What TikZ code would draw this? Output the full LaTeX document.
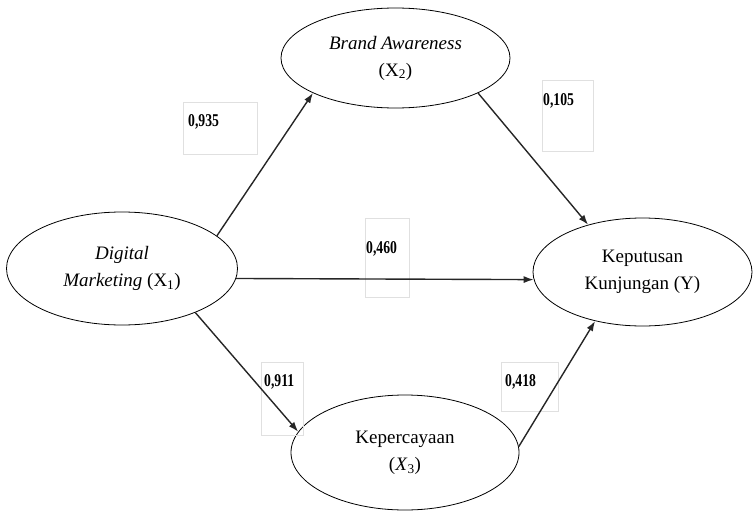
\documentclass[tikz,border=0pt]{standalone}
\usepackage{fontspec}
\setmainfont{Liberation Serif}
\newfontfamily\numfont[FakeStretch=0.76]{Liberation Serif}
\usetikzlibrary{shapes.geometric,arrows.meta}
\begin{document}
\begin{tikzpicture}[x=1pt,y=-1pt,
  latent/.style={ellipse, draw=black, line width=0.8pt, inner sep=0pt, align=center,
    font=\fontsize{19}{27}\selectfont},
  pathline/.style={draw=black!85, line width=1.4pt, -{Latex[length=10pt,width=7pt]}},
  numbox/.style={draw=black!12, line width=0.8pt, inner sep=0pt, anchor=north west},
  numtext/.style={font=\numfont\bfseries\fontsize{18}{20}\selectfont, anchor=base west, inner sep=0pt}]
\useasboundingbox (0,0) rectangle (755,511);

% latent variables
\node[latent, minimum width=231, minimum height=113] (X1) at (122,268.5)
  {\textit{Digital}\\\textit{Marketing} (X\textsubscript{1})};
\node[latent, minimum width=229, minimum height=100] (X2) at (395.5,58)
  {\textit{Brand Awareness}\\(X\textsubscript{2})};
\node[latent, minimum width=219, minimum height=108] (Y) at (642.5,272)
  {Keputusan\\Kunjungan (Y)};
\node[latent, minimum width=228, minimum height=115] (X3) at (405,452.5)
  {Kepercayaan\\(\textit{X}\textsubscript{3})};

% coefficient boxes
\node[numbox, minimum width=74, minimum height=52] (b1) at (183,102) {};
\node[numbox, minimum width=51, minimum height=71] (b2) at (542,80) {};
\node[numbox, minimum width=44, minimum height=79] (b3) at (365,218) {};
\node[numbox, minimum width=42, minimum height=73] (b4) at (261,362) {};
\node[numbox, minimum width=57, minimum height=49] (b5) at (501,362) {};

\node[numtext] (t1) at (188,126) {0,935};
\node[numtext] (t2) at (543,106) {0,105};
\node[numtext] (t3) at (366,253) {0,460};
\node[numtext] (t4) at (264,386) {0,911};
\node[numtext] (t5) at (505,386) {0,418};

% paths
\draw[pathline] (X1.19.8) -- (X2.203.2);
\draw[pathline] (X1.-5.8) -- (Y.184.2);
\draw[pathline] (X1.-31.9) -- (X3.169.5);
\draw[pathline] (X2.-23.6) -- (Y.139.6);
\draw[pathline] (X3.3.8) -- (Y.226.4);
\end{tikzpicture}
\end{document}
